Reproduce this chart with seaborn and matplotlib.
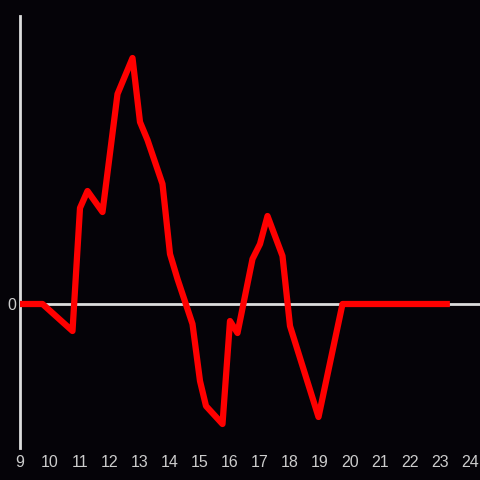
import pandas as pd
import matplotlib.pyplot as plt
import seaborn as sns

hours = [9.0, 9.75, 10.75, 11.0, 11.25, 11.75, 12.25, 12.75, 13.0, 13.25, 13.75,
         14.0, 14.25, 14.75, 15.0, 15.2, 15.75, 16.0, 16.25, 16.75, 17.0, 17.25,
         17.75, 18.0, 18.95, 19.75, 23.33]
values = [0, 0, -2.7, 9.6, 11.3, 9.2, 21.0, 24.6, 18.2, 16.4, 12.0,
          5.0, 2.5, -2.0, -7.7, -10.2, -12.0, -1.7, -2.9, 4.5, 6.0, 8.8,
          4.8, -2.2, -11.3, 0, 0]
xticks = list(range(9, 25))

df = pd.DataFrame({'hour': hours, 'value': values})

sns.set_theme(style="dark")
plt.rcParams['font.family'] = ['Liberation Sans', 'DejaVu Sans']
bg = '#050308'
fig = plt.figure(figsize=(4.8, 4.8), dpi=100, facecolor=bg)
ax = fig.add_axes([20 / 480, 32 / 480, 460 / 480, 432 / 480])
ax.set_facecolor(bg)

ax.axhline(0, color='#dddddd', lw=2, zorder=1)
sns.lineplot(data=df, x='hour', y='value', color='#ff0000', lw=4.5,
             solid_capstyle='butt', ax=ax, zorder=3)

ax.set_xlim(9, 9 + 460 / 30)
ax.set_ylim(-14.4, 28.8)
ax.set_xticks(xticks)
ax.set_xticklabels([str(t) for t in xticks])
ax.set_yticks([0])
ax.set_yticklabels(['0'])
ax.tick_params(colors='#cccccc', labelsize=11.5, length=0, pad=3)
ax.tick_params(axis='x', pad=5)
ax.set_xlabel('')
ax.set_ylabel('')
ax.grid(False)

for side in ['top', 'right', 'bottom']:
    ax.spines[side].set_visible(False)
ax.spines['left'].set_color('#dddddd')
ax.spines['left'].set_linewidth(2)

fig.savefig('out.png', dpi=100, facecolor=bg)
